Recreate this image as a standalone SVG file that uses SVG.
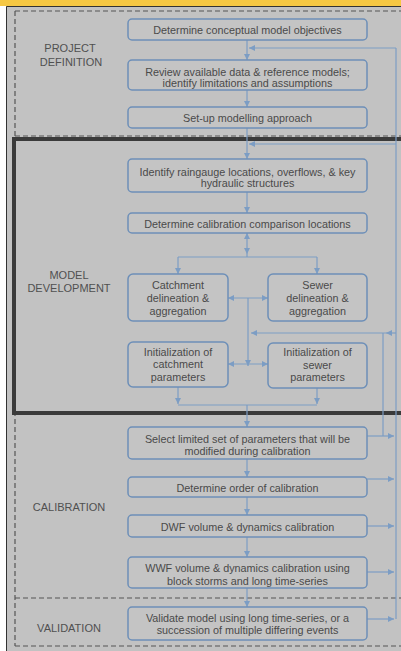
<svg xmlns="http://www.w3.org/2000/svg" width="401" height="651" viewBox="0 0 401 651">
<style>
.box{fill:#c4c4c4;stroke:#6d8fb8;stroke-width:1.5}
.t{font-family:"Liberation Sans",Arial,sans-serif;font-size:10.8px;fill:#4a4a4a;text-anchor:middle}
.lbl{font-family:"Liberation Sans",Arial,sans-serif;font-size:11px;fill:#505050;text-anchor:middle}
.dash{fill:none;stroke:#555;stroke-width:1.2;stroke-dasharray:5 3}
.c{fill:none;stroke:#7c9dc4;stroke-width:1.2}
.a{marker-end:url(#ah)}
.b{marker-start:url(#ah);marker-end:url(#ah)}
</style>
<defs>
<marker id="ah" viewBox="0 0 6 6" refX="6" refY="3" markerWidth="6" markerHeight="6" markerUnits="userSpaceOnUse" orient="auto-start-reverse">
<path d="M0,0 L6,3 L0,6 z" fill="#7c9dc4"/>
</marker>
</defs>
<rect x="0" y="0" width="401" height="651" fill="#ffffff"/>
<rect x="0" y="0" width="401" height="6" fill="#f6c844"/>
<rect x="6" y="6" width="395" height="645" fill="#c2c2c2"/>
<path d="M6.5,651 V6.5 H401" fill="none" stroke="#333" stroke-width="1"/>

<g id="frames">
<path class="dash" d="M15,11 H401"/>
<path class="dash" d="M15,11 V646"/>
<path class="dash" d="M15,136 H401"/>
<path class="dash" d="M15,598 H401"/>
<path class="dash" d="M15,646 H401"/>
<rect x="14" y="139" width="400" height="274" fill="none" stroke="#3a3a3a" stroke-width="4"/>
</g>

<g id="labels">
<text class="lbl" x="70" y="52">PROJECT</text>
<text class="lbl" x="71" y="65.5">DEFINITION</text>
<text class="lbl" x="69" y="279">MODEL</text>
<text class="lbl" x="69" y="292">DEVELOPMENT</text>
<text class="lbl" x="69" y="511">CALIBRATION</text>
<text class="lbl" x="69" y="632">VALIDATION</text>
</g>

<g id="connectors">
<path class="c a" d="M247,40 V60"/>
<path class="c a" d="M247,90 V107"/>
<path class="c a" d="M247,128 V159"/>
<path class="c a" d="M247,192 V213"/>
<path class="c b" d="M247,233 V254"/>
<path class="c" d="M247,254 V257 M178,257 H317"/>
<path class="c a" d="M178,257 V274"/>
<path class="c a" d="M317,257 V274"/>
<path class="c b" d="M228,298 H268"/>
<path class="c a" d="M248,298 V366"/>
<path class="c b" d="M228,364 H268"/>
<path class="c a" d="M178,387 V404"/>
<path class="c a" d="M317,388 V404"/>
<path class="c" d="M178,405 H317"/>
<path class="c a" d="M247,405 V427"/>
<path class="c a" d="M247,459 V477"/>
<path class="c a" d="M247,497 V515"/>
<path class="c a" d="M247,537 V557"/>
<path class="c a" d="M247,588 V607"/>
<path class="c a" d="M367,436 H394"/>
<path class="c a" d="M367,479 H394"/>
<path class="c a" d="M367,526 H394"/>
<path class="c a" d="M367,572 H394"/>
<path class="c a" d="M367,619 H394"/>
<path class="c" d="M396,48 V619"/>
<path class="c a" d="M396,48 H249"/>
<path class="c a" d="M396,144 H249"/>
<path class="c a" d="M396,333 H386"/>
<path class="c a" d="M386,333 H251"/>
<path class="c" d="M383,333 V436"/>
</g>

<g id="n1"><rect class="box" x="128" y="19" width="239" height="21" rx="4"/><text class="t" x="247.5" y="33.5">Determine conceptual model objectives</text></g>
<g id="n2"><rect class="box" x="128" y="60" width="239" height="30" rx="4"/><text class="t" x="247.5" y="75.5">Review available data &amp; reference models;</text><text class="t" x="247.5" y="87">identify limitations and assumptions</text></g>
<g id="n3"><rect class="box" x="128" y="107" width="239" height="21" rx="4"/><text class="t" x="247.5" y="121.5">Set-up modelling approach</text></g>
<g id="n4"><rect class="box" x="128" y="159" width="239" height="33" rx="4"/><text class="t" x="247.5" y="175.5">Identify raingauge locations, overflows, &amp; key</text><text class="t" x="247.5" y="187">hydraulic structures</text></g>
<g id="n5"><rect class="box" x="128" y="213" width="239" height="20" rx="4"/><text class="t" x="247.5" y="227.5">Determine calibration comparison locations</text></g>
<g id="n6"><rect class="box" x="128" y="274" width="100" height="47" rx="5"/><text class="t" x="178" y="289">Catchment</text><text class="t" x="178" y="302">delineation &amp;</text><text class="t" x="178" y="315">aggregation</text></g>
<g id="n7"><rect class="box" x="268" y="274" width="99" height="47" rx="5"/><text class="t" x="317.5" y="289">Sewer</text><text class="t" x="317.5" y="302">delineation &amp;</text><text class="t" x="317.5" y="315">aggregation</text></g>
<g id="n8"><rect class="box" x="128" y="342" width="100" height="45" rx="5"/><text class="t" x="178" y="355.5">Initialization of</text><text class="t" x="178" y="368">catchment</text><text class="t" x="178" y="380.5">parameters</text></g>
<g id="n9"><rect class="box" x="268" y="343" width="99" height="45" rx="5"/><text class="t" x="317.5" y="356">Initialization of</text><text class="t" x="317.5" y="368.5">sewer</text><text class="t" x="317.5" y="381">parameters</text></g>
<g id="n10"><rect class="box" x="128" y="427" width="239" height="32" rx="4"/><text class="t" x="247.5" y="442.5">Select limited set of parameters that will be</text><text class="t" x="247.5" y="454.5">modified during calibration</text></g>
<g id="n11"><rect class="box" x="128" y="477" width="239" height="20" rx="4"/><text class="t" x="247.5" y="491.5">Determine order of calibration</text></g>
<g id="n12"><rect class="box" x="128" y="515" width="239" height="22" rx="4"/><text class="t" x="247.5" y="530.5">DWF volume &amp; dynamics calibration</text></g>
<g id="n13"><rect class="box" x="128" y="557" width="239" height="31" rx="4"/><text class="t" x="247.5" y="571.5">WWF volume &amp; dynamics calibration using</text><text class="t" x="247.5" y="584.5">block storms and long time-series</text></g>
<g id="n14"><rect class="box" x="128" y="607" width="239" height="33" rx="4"/><text class="t" x="247.5" y="621.5">Validate model using long time-series, or a</text><text class="t" x="247.5" y="633.5">succession of multiple differing events</text></g>
</svg>
